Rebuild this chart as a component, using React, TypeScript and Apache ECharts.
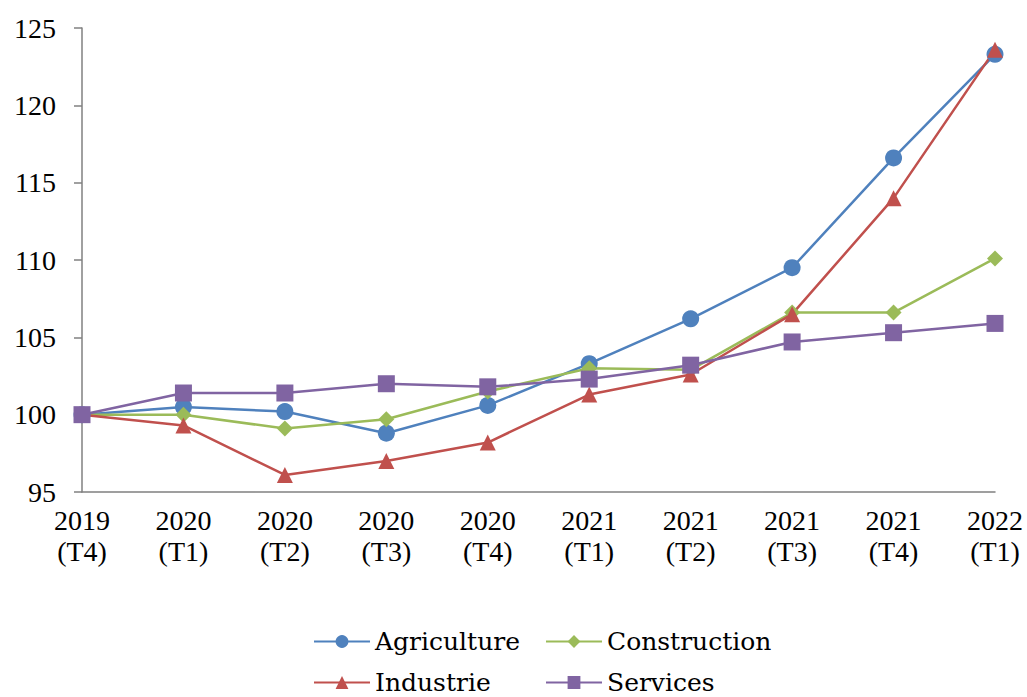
import React, { useEffect, useRef } from "react";
import * as echarts from "echarts";

const categories = [
  "2019\n(T4)", "2020\n(T1)", "2020\n(T2)", "2020\n(T3)", "2020\n(T4)",
  "2021\n(T1)", "2021\n(T2)", "2021\n(T3)", "2021\n(T4)", "2022\n(T1)",
];

const agriculture = [100, 100.5, 100.2, 98.8, 100.6, 103.3, 106.2, 109.5, 116.6, 123.3];
const construction = [100, 100.0, 99.1, 99.7, 101.5, 103.0, 102.9, 106.6, 106.6, 110.1];
const industrie = [100, 99.3, 96.1, 97.0, 98.2, 101.3, 102.6, 106.5, 114.0, 123.6];
const services = [100, 101.4, 101.4, 102.0, 101.8, 102.3, 103.2, 104.7, 105.3, 105.9];

const FONT = "'Liberation Serif', 'DejaVu Serif', serif";
const LEGEND_FONT = "'DejaVu Serif', 'Liberation Serif', serif";

export default function App() {
  const ref = useRef<HTMLDivElement>(null);

  useEffect(() => {
    if (!ref.current) return;
    const chart = echarts.init(ref.current, undefined, { renderer: "svg" });

    const mkSeries = (name: string, data: number[], color: string, symbol: string, size: number) => ({
      name,
      type: "line",
      data,
      symbol,
      symbolSize: size,
      itemStyle: { color },
      lineStyle: { color, width: 2.5 },
      z: 2,
    });

    const legendText = { fontFamily: LEGEND_FONT, fontSize: 25, color: "#000" };
    const mkLegend = (name: string, left: number, top: number) => ({
      data: [name],
      left,
      top,
      itemWidth: 56,
      itemHeight: 16,
      itemGap: 0,
      textStyle: legendText,
      padding: 0,
    });

    chart.setOption({
      animation: false,
      backgroundColor: "#fff",
      grid: { left: 82, right: 32, top: 28, bottom: 205, containLabel: false },
      xAxis: {
        type: "category",
        data: categories,
        boundaryGap: false,
        axisLine: { lineStyle: { color: "#808080", width: 1.5 } },
        axisTick: { show: false },
        axisLabel: {
          fontFamily: FONT,
          fontSize: 28,
          color: "#000",
          lineHeight: 31,
          margin: 13,
          interval: 0,
        },
        splitLine: { show: false },
      },
      yAxis: {
        type: "value",
        min: 95,
        max: 125,
        interval: 5,
        axisLine: { show: true, lineStyle: { color: "#808080", width: 1.5 } },
        axisTick: { show: true, length: 8, lineStyle: { color: "#808080", width: 1.5 } },
        axisLabel: { fontFamily: FONT, fontSize: 28, color: "#000", margin: 26 },
        splitLine: { show: false },
      },
      legend: [
        mkLegend("Agriculture", 313, 629),
        mkLegend("Construction", 545, 629),
        mkLegend("Industrie", 313, 670),
        mkLegend("Services", 545, 670),
      ],
      series: [
        mkSeries("Agriculture", agriculture, "#4F81BD", "circle", 17),
        mkSeries("Construction", construction, "#9BBB59", "diamond", 16),
        mkSeries("Industrie", industrie, "#C0504D", "triangle", 16),
        mkSeries("Services", services, "#8064A2", "rect", 17),
      ],
    });

    return () => chart.dispose();
  }, []);

  return <div ref={ref} style={{ width: 1027, height: 697, position: "absolute", left: 0, top: 0 }} />;
}
